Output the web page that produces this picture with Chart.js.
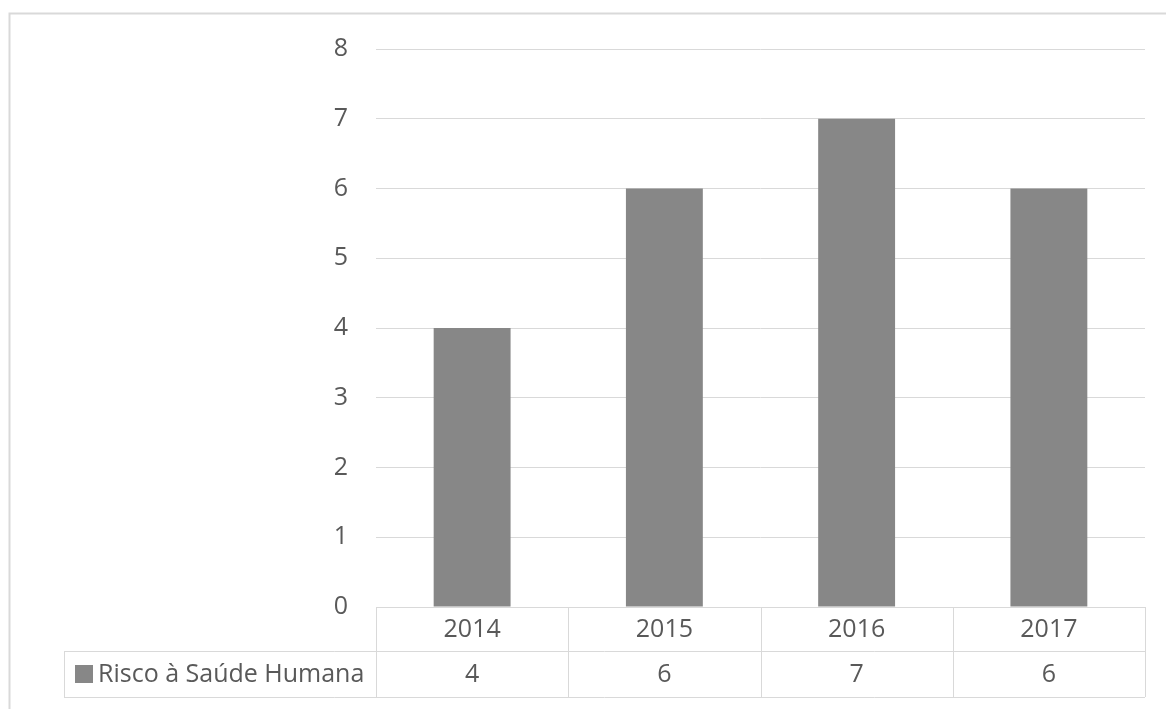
<!DOCTYPE html>
<html>
<head>
<meta charset="utf-8">
<script src="https://cdn.jsdelivr.net/npm/chart.js@4"></script>
<style>
  html, body { margin: 0; padding: 0; background: #fff; }
  #wrap { width: 1166px; height: 709px; }
</style>
</head>
<body>
<div id="wrap"><canvas id="myChart" width="1166" height="709"></canvas></div>
<script>
const years = ['2014', '2015', '2016', '2017'];
const riscoSaude = [4, 6, 7, 6];
const seriesName = 'Risco à Saúde Humana';
const yTicks = [0, 1, 2, 3, 4, 5, 6, 7, 8];

const textColor = '#595959';
const lineColor = '#d9d9d9';
const barColor = '#878787';
const fontFamily = '"Open Sans", "DejaVu Sans", sans-serif';
const fontSize = 25;

// frame around the chart (only top and left edges show in the picture)
const framePlugin = {
    id: 'frame',
    beforeDraw(chart) {
        const c = chart.ctx;
        c.save();
        c.strokeStyle = lineColor;
        c.lineWidth = 2;
        c.beginPath();
        c.moveTo(9.5, chart.height);
        c.lineTo(9.5, 13.5);
        c.lineTo(chart.width, 13.5);
        c.stroke();
        c.restore();
    }
};

// Excel style data table under the plot
const tablePlugin = {
    id: 'dataTable',
    afterDraw(chart) {
        const c = chart.ctx;
        const x = chart.scales.x;
        const area = chart.chartArea;
        const step = x.getPixelForValue(1) - x.getPixelForValue(0);
        const top = area.bottom;
        const mid = top + 44;
        const bot = mid + 46;
        const legLeft = 64;

        c.save();
        c.strokeStyle = lineColor;
        c.lineWidth = 1;
        c.beginPath();
        // horizontal lines
        c.moveTo(area.left, top + 0.5); c.lineTo(area.right, top + 0.5);
        c.moveTo(legLeft, mid + 0.5); c.lineTo(area.right, mid + 0.5);
        c.moveTo(legLeft, bot + 0.5); c.lineTo(area.right, bot + 0.5);
        // vertical lines
        c.moveTo(legLeft + 0.5, mid); c.lineTo(legLeft + 0.5, bot);
        for (let i = 0; i <= years.length; i++) {
            const px = Math.round(x.getPixelForValue(i) - step / 2) + 0.5;
            c.moveTo(px, top); c.lineTo(px, bot);
        }
        c.stroke();

        c.fillStyle = textColor;
        c.font = fontSize + 'px ' + fontFamily;
        c.textAlign = 'center';
        c.textBaseline = 'middle';
        years.forEach((yr, i) => {
            const cx = x.getPixelForValue(i);
            c.fillText(yr, cx, (top + mid) / 2 + 1);
            c.fillText(String(riscoSaude[i]), cx, (mid + bot) / 2 + 1);
        });

        // legend key + series name
        c.fillStyle = barColor;
        c.fillRect(75, mid + 14, 18, 18);
        c.fillStyle = textColor;
        c.textAlign = 'left';
        c.fillText(seriesName, 98, (mid + bot) / 2 + 1);
        c.restore();
    }
};

new Chart(document.getElementById('myChart'), {
    type: 'bar',
    data: {
        labels: years,
        datasets: [{
            label: seriesName,
            data: riscoSaude,
            backgroundColor: barColor,
            borderWidth: 0,
            categoryPercentage: 1,
            barPercentage: 0.4
        }]
    },
    options: {
        responsive: false,
        animation: false,
        layout: {
            padding: { left: 316, right: 21, top: 49, bottom: 102 }
        },
        scales: {
            x: {
                afterFit(scale) { scale.height = 0; },
                grid: { display: false, drawTicks: false },
                border: { display: false },
                ticks: { display: false }
            },
            y: {
                min: 0,
                max: 8,
                afterFit(scale) { scale.width = 60; },
                afterBuildTicks(scale) { scale.ticks = yTicks.map(v => ({ value: v })); },
                grid: { color: lineColor, drawTicks: false },
                border: { display: false },
                ticks: {
                    padding: 28,
                    color: textColor,
                    font: { family: fontFamily, size: fontSize }
                }
            }
        },
        plugins: {
            legend: { display: false },
            tooltip: { enabled: false }
        }
    },
    plugins: [framePlugin, tablePlugin]
});
</script>
</body>
</html>
